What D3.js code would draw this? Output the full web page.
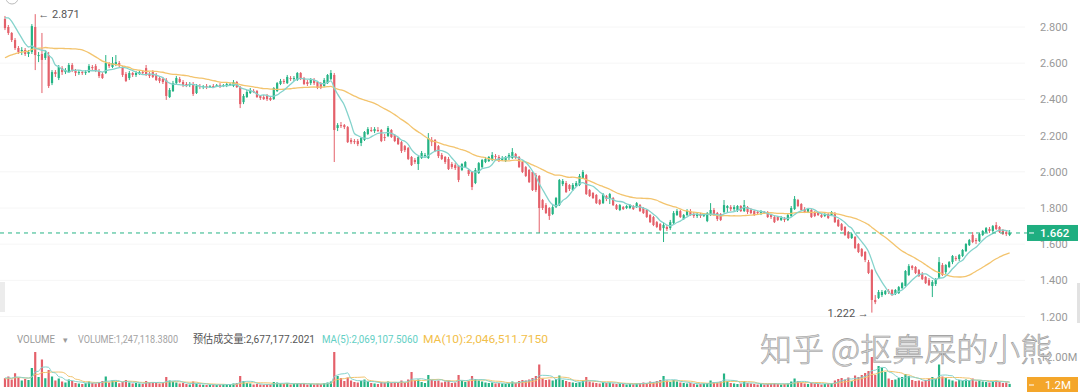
<!DOCTYPE html>
<html><head><meta charset="utf-8">
<script src="https://cdn.jsdelivr.net/npm/d3@7"></script>
<style>html,body{margin:0;padding:0;background:#fff;}svg{display:block;}</style>
</head><body>
<svg id="chart" width="1080" height="392"></svg>
<script>
// ---- DATA ----
const preCloses = [2.50,2.52,2.49,2.53,2.55,2.54,2.57,2.55,2.53,2.56,2.58,2.57,2.55,2.58,2.60,2.57,2.55,2.58,2.60,2.59,2.57,2.61,2.64,2.78,2.86,2.90,2.88,2.89,2.86];
const opens = [
2.844,2.800,2.767,2.728,2.684,2.667,2.673,2.651,2.662,2.800,
2.640,2.651,2.629,2.645,2.490,2.551,2.518,2.573,2.551,2.551,
2.590,2.557,2.546,2.551,2.546,2.551,2.579,2.584,2.557,2.540,
2.546,2.595,2.579,2.595,2.601,2.579,2.540,2.518,2.546,2.535,
2.540,2.551,2.573,2.540,2.551,2.535,2.518,2.513,2.507,2.413,
2.446,2.490,2.513,2.496,2.485,2.479,2.485,2.435,2.474,2.468,
2.474,2.468,2.474,2.474,2.479,2.474,2.474,2.479,2.474,2.496,
2.468,2.385,2.413,2.435,2.446,2.446,2.419,2.413,2.419,2.408,
2.402,2.446,2.485,2.502,2.490,2.518,2.513,2.507,2.546,2.518,
2.496,2.490,2.507,2.496,2.485,2.474,2.490,2.513,2.535,2.242,
2.258,2.258,2.247,2.176,2.170,2.170,2.159,2.176,2.209,2.231,
2.225,2.231,2.231,2.192,2.198,2.231,2.203,2.187,2.164,2.142,
2.131,2.082,2.065,2.043,2.076,2.087,2.076,2.176,2.176,2.142,
2.093,2.082,2.071,2.043,2.037,2.032,2.010,2.026,2.010,1.999,
1.938,1.993,2.026,2.054,2.059,2.065,2.087,2.082,2.065,2.059,
2.076,2.076,2.098,2.082,2.054,2.026,2.010,1.999,1.982,1.977,
1.844,1.816,1.800,1.767,1.805,1.816,1.932,1.938,1.927,1.899,
1.921,1.927,1.966,1.982,1.899,1.883,1.872,1.844,1.827,1.866,
1.855,1.855,1.816,1.789,1.805,1.800,1.800,1.811,1.805,1.816,
1.800,1.789,1.761,1.750,1.722,1.711,1.689,1.695,1.689,1.717,
1.761,1.783,1.739,1.761,1.783,1.767,1.756,1.767,1.756,1.728,
1.761,1.789,1.772,1.767,1.778,1.800,1.805,1.794,1.789,1.811,
1.783,1.805,1.789,1.783,1.778,1.772,1.778,1.778,1.761,1.750,
1.750,1.734,1.739,1.734,1.756,1.794,1.844,1.822,1.794,1.778,
1.789,1.778,1.772,1.761,1.756,1.767,1.761,1.772,1.734,1.711,
1.695,1.667,1.634,1.640,1.601,1.573,1.557,1.501,1.457,1.292,
1.303,1.319,1.325,1.341,1.347,1.325,1.330,1.358,1.369,1.430,
1.479,1.474,1.457,1.435,1.419,1.402,1.369,1.380,1.413,1.485,
1.446,1.474,1.501,1.524,1.518,1.535,1.562,1.595,1.651,1.623,
1.617,1.651,1.667,1.684,1.673,1.706,1.695,1.678,1.667,1.651];
const highs = [
2.861,2.811,2.772,2.739,2.695,2.689,2.684,2.673,2.816,2.871,
2.662,2.767,2.673,2.662,2.562,2.562,2.590,2.584,2.573,2.601,
2.601,2.568,2.562,2.557,2.562,2.595,2.590,2.595,2.568,2.551,
2.645,2.606,2.634,2.645,2.612,2.584,2.551,2.557,2.551,2.557,
2.562,2.562,2.590,2.551,2.562,2.546,2.529,2.524,2.518,2.463,
2.502,2.529,2.524,2.507,2.496,2.496,2.496,2.485,2.485,2.479,
2.485,2.479,2.485,2.485,2.490,2.485,2.496,2.490,2.507,2.502,
2.474,2.430,2.452,2.463,2.457,2.452,2.424,2.424,2.430,2.419,
2.468,2.496,2.513,2.513,2.535,2.529,2.529,2.551,2.551,2.524,
2.507,2.518,2.518,2.502,2.496,2.518,2.540,2.562,2.546,2.269,
2.275,2.264,2.253,2.187,2.181,2.181,2.192,2.225,2.247,2.247,
2.247,2.247,2.236,2.209,2.253,2.236,2.209,2.192,2.170,2.148,
2.137,2.087,2.076,2.087,2.115,2.104,2.214,2.192,2.181,2.148,
2.104,2.087,2.082,2.054,2.048,2.037,2.048,2.059,2.015,2.004,
2.021,2.054,2.071,2.082,2.087,2.109,2.098,2.093,2.087,2.087,
2.104,2.131,2.104,2.087,2.059,2.032,2.015,2.004,1.993,1.982,
1.850,1.827,1.805,1.816,1.861,1.960,1.960,1.949,1.932,1.938,
1.949,1.988,2.010,1.988,1.905,1.888,1.877,1.850,1.883,1.872,
1.883,1.861,1.822,1.822,1.811,1.816,1.822,1.816,1.833,1.822,
1.805,1.794,1.767,1.756,1.728,1.717,1.722,1.706,1.734,1.783,
1.794,1.789,1.767,1.794,1.794,1.778,1.778,1.772,1.772,1.778,
1.827,1.800,1.778,1.772,1.844,1.816,1.816,1.816,1.816,1.816,
1.844,1.811,1.800,1.789,1.783,1.789,1.783,1.783,1.767,1.756,
1.756,1.756,1.750,1.767,1.811,1.866,1.850,1.827,1.805,1.800,
1.794,1.783,1.778,1.772,1.772,1.772,1.783,1.778,1.739,1.717,
1.700,1.673,1.662,1.645,1.606,1.579,1.562,1.513,1.463,1.319,
1.347,1.347,1.347,1.352,1.352,1.352,1.369,1.391,1.457,1.490,
1.485,1.479,1.463,1.446,1.424,1.413,1.402,1.413,1.529,1.496,
1.490,1.507,1.540,1.535,1.546,1.573,1.606,1.629,1.667,1.634,
1.662,1.678,1.695,1.695,1.706,1.722,1.700,1.684,1.673,1.678];
const lows = [
2.783,2.756,2.717,2.673,2.651,2.645,2.640,2.634,2.651,2.562,
2.606,2.435,2.618,2.463,2.479,2.524,2.507,2.535,2.540,2.546,
2.551,2.529,2.535,2.535,2.535,2.546,2.562,2.551,2.518,2.513,
2.540,2.573,2.573,2.584,2.579,2.524,2.496,2.507,2.524,2.524,
2.535,2.535,2.529,2.518,2.518,2.502,2.490,2.485,2.397,2.408,
2.441,2.485,2.490,2.468,2.468,2.468,2.419,2.430,2.457,2.457,
2.457,2.463,2.463,2.468,2.463,2.468,2.468,2.474,2.468,2.463,
2.352,2.374,2.408,2.430,2.435,2.408,2.397,2.397,2.391,2.391,
2.397,2.441,2.479,2.485,2.485,2.502,2.502,2.502,2.507,2.479,
2.474,2.479,2.479,2.457,2.457,2.468,2.485,2.507,2.054,2.225,
2.242,2.236,2.159,2.153,2.153,2.142,2.142,2.170,2.203,2.220,
2.214,2.220,2.164,2.170,2.192,2.187,2.164,2.148,2.104,2.109,
2.065,2.032,2.043,2.010,2.071,2.076,2.071,2.142,2.109,2.076,
2.065,2.043,2.010,2.015,2.010,1.943,2.004,2.021,1.977,1.899,
1.932,1.988,2.021,2.048,2.054,2.059,2.065,2.054,2.059,2.054,
2.065,2.071,2.071,2.021,1.993,1.971,1.938,1.894,1.888,1.662,
1.789,1.767,1.734,1.761,1.800,1.811,1.921,1.883,1.894,1.894,
1.916,1.921,1.960,1.872,1.861,1.850,1.822,1.816,1.822,1.838,
1.822,1.811,1.789,1.783,1.789,1.794,1.794,1.789,1.800,1.778,
1.767,1.745,1.717,1.700,1.689,1.673,1.612,1.673,1.678,1.711,
1.756,1.745,1.734,1.756,1.756,1.745,1.745,1.745,1.750,1.722,
1.756,1.756,1.728,1.728,1.772,1.778,1.783,1.783,1.778,1.778,
1.778,1.767,1.767,1.756,1.761,1.761,1.767,1.745,1.739,1.717,
1.728,1.728,1.722,1.728,1.750,1.789,1.805,1.783,1.772,1.772,
1.745,1.750,1.756,1.745,1.750,1.739,1.756,1.717,1.695,1.673,
1.645,1.629,1.629,1.573,1.551,1.529,1.501,1.435,1.222,1.269,
1.297,1.308,1.319,1.325,1.314,1.319,1.325,1.352,1.363,1.424,
1.457,1.435,1.419,1.402,1.380,1.369,1.308,1.369,1.407,1.424,
1.435,1.468,1.490,1.507,1.507,1.529,1.557,1.590,1.606,1.601,
1.612,1.645,1.662,1.662,1.667,1.678,1.662,1.651,1.645,1.645];
const closes = [
2.794,2.767,2.728,2.684,2.662,2.673,2.651,2.662,2.805,2.645,
2.645,2.618,2.656,2.474,2.551,2.540,2.579,2.551,2.562,2.590,
2.557,2.546,2.551,2.546,2.551,2.584,2.573,2.557,2.529,2.518,
2.601,2.584,2.601,2.606,2.590,2.535,2.502,2.546,2.535,2.546,
2.551,2.546,2.535,2.529,2.524,2.507,2.502,2.496,2.419,2.452,
2.490,2.518,2.496,2.479,2.474,2.485,2.430,2.474,2.468,2.474,
2.468,2.474,2.471,2.479,2.474,2.479,2.485,2.485,2.496,2.468,
2.374,2.419,2.441,2.452,2.441,2.413,2.408,2.402,2.402,2.397,
2.463,2.490,2.502,2.496,2.524,2.513,2.518,2.546,2.513,2.485,
2.485,2.513,2.490,2.463,2.463,2.507,2.535,2.546,2.231,2.258,
2.253,2.247,2.164,2.164,2.164,2.153,2.187,2.220,2.236,2.228,
2.236,2.228,2.170,2.187,2.242,2.192,2.170,2.153,2.115,2.120,
2.071,2.037,2.054,2.082,2.104,2.093,2.187,2.164,2.115,2.087,
2.071,2.054,2.015,2.026,2.021,1.955,2.043,2.054,1.988,1.916,
2.010,2.048,2.065,2.071,2.082,2.093,2.082,2.059,2.076,2.082,
2.093,2.109,2.076,2.026,1.999,1.977,1.943,1.899,1.899,1.800,
1.800,1.772,1.756,1.805,1.855,1.955,1.949,1.888,1.905,1.927,
1.938,1.977,1.999,1.877,1.866,1.855,1.827,1.822,1.877,1.850,
1.877,1.816,1.794,1.816,1.794,1.811,1.816,1.794,1.827,1.783,
1.772,1.750,1.722,1.706,1.695,1.678,1.706,1.684,1.722,1.772,
1.783,1.750,1.761,1.783,1.761,1.756,1.767,1.756,1.761,1.772,
1.789,1.761,1.739,1.734,1.816,1.811,1.794,1.805,1.811,1.783,
1.816,1.778,1.772,1.761,1.772,1.778,1.772,1.750,1.750,1.722,
1.734,1.745,1.734,1.761,1.800,1.850,1.811,1.789,1.778,1.794,
1.750,1.756,1.761,1.750,1.767,1.745,1.778,1.722,1.700,1.678,
1.651,1.634,1.656,1.579,1.557,1.535,1.513,1.441,1.292,1.280,
1.336,1.336,1.341,1.336,1.319,1.347,1.363,1.385,1.452,1.479,
1.468,1.441,1.424,1.407,1.385,1.374,1.391,1.407,1.501,1.430,
1.485,1.501,1.535,1.518,1.540,1.568,1.601,1.623,1.612,1.617,
1.656,1.673,1.689,1.673,1.700,1.684,1.667,1.656,1.656,1.662];
// volume, in millions
const preVolumes = [2.4,2.8,3.0,2.6,3.4,4.0,3.6,3.2,3.8];
const volumes = [
3.5,4.2,3.0,5.5,3.8,2.6,3.2,2.8,7.6,14.0,
4.0,11.0,3.5,6.8,4.2,2.6,3.4,2.2,1.8,3.0,
2.4,1.6,1.4,1.2,1.5,2.2,1.6,1.4,2.0,2.4,
4.2,1.8,2.6,2.2,1.5,2.0,2.8,1.8,1.4,1.6,
1.4,1.2,2.4,1.8,2.0,1.6,1.4,1.8,4.0,2.6,
2.2,1.8,1.4,1.6,1.2,1.0,2.2,1.4,1.0,0.9,
0.8,0.9,1.0,0.8,0.9,1.1,1.2,0.9,1.4,1.6,
4.4,2.4,1.6,1.4,1.0,1.2,1.0,0.9,1.1,1.0,
2.0,1.8,1.4,1.2,1.6,1.0,1.2,1.5,1.3,1.4,
1.0,1.2,1.0,1.3,1.2,1.6,1.8,2.2,14.0,4.4,
3.6,2.4,3.8,2.6,2.0,1.8,2.4,3.0,2.2,1.6,
1.4,1.2,2.0,1.8,2.2,1.6,1.8,2.0,2.6,1.8,
3.0,6.0,2.6,3.0,2.0,1.6,4.8,2.8,2.4,2.6,
1.8,2.2,2.6,1.6,1.8,4.8,2.6,2.0,2.4,4.4,
3.2,2.6,2.2,1.8,1.6,1.8,1.4,1.6,1.4,1.2,
1.6,2.2,1.6,2.4,2.8,2.6,3.0,3.6,4.4,9.0,
3.4,2.8,3.0,2.6,3.2,4.6,2.8,2.4,2.0,1.8,
1.6,2.0,2.6,4.0,2.2,1.8,1.6,1.4,2.0,1.6,
1.8,1.4,1.2,1.4,1.2,1.0,1.2,1.1,1.4,1.6,
1.8,1.6,2.2,2.0,2.4,2.8,4.4,2.6,2.0,2.8,
2.2,1.8,1.6,1.4,1.6,1.2,1.0,1.2,1.4,1.6,
2.6,2.0,1.8,2.2,5.4,2.4,1.6,1.4,1.2,1.4,
2.4,1.6,1.4,1.2,1.0,1.2,1.0,1.2,1.4,1.6,
1.2,1.0,1.2,1.4,2.2,3.4,2.4,1.8,1.4,1.2,
1.6,1.4,1.2,1.0,1.2,1.4,1.6,2.6,3.2,3.6,
3.0,3.8,2.4,4.6,4.0,4.8,5.6,6.4,12.0,4.8,
8.4,7.6,6.0,3.4,2.8,3.0,3.6,4.0,5.2,4.4,
2.8,2.4,2.6,2.2,2.8,3.4,4.0,3.2,9.0,4.2,
3.6,3.0,2.6,2.2,2.8,2.4,3.0,2.6,3.4,2.2,
2.6,2.2,2.0,1.8,2.4,2.6,2.0,1.6,1.8,1.25];
const priceTicks = [1.2,1.4,1.6,1.8,2.0,2.2,2.4,2.6,2.8];
const volumeTicks = [12];
const volumeHeader = [
  {t:"VOLUME", x:17, w:38, c:"#9a9a9a"},
  {t:"\u25BE", x:63, w:0, c:"#9a9a9a"},
  {t:"VOLUME:1,247,118.3800", x:78, w:100, c:"#a3a3a3"},
  {t:"预估成交量:2,677,177.2021", x:193, w:122, c:"#555555"},
  {t:"MA(5):2,069,107.5060", x:322, w:96, c:"#62cfc4"},
  {t:"MA(10):2,046,511.7150", x:423, w:125, c:"#f2c04a"}
];
const lastVolumeLabel = "1.2M";
const watermark = "知乎 @抠鼻屎的小熊";

// ---- CHART ----
const N = closes.length;
const RED = "#e4606a", GREEN = "#24b384";
const svg = d3.select("#chart");
const x = d3.scaleBand().domain(d3.range(N)).range([3.3, 1011.3]).paddingInner(0.35).paddingOuter(0.175);
const bw = x.bandwidth();
const cx = i => x(i) + bw / 2;
const y = d3.scaleLinear().domain([1.2, 2.8]).range([316.6, 27]);
const yv = d3.scaleLinear().domain([0, 12]).range([387, 357]);

function movingAvg(series, pre, n) {
  const all = pre.concat(series);
  const off = pre.length;
  return series.map((_, i) => {
    const end = off + i + 1, start = Math.max(0, end - n);
    return d3.mean(all.slice(start, end));
  });
}
const ma7 = movingAvg(closes, preCloses, 7);
const ma30 = movingAvg(closes, preCloses, 30);
const vma5 = movingAvg(volumes, preVolumes, 5);
const vma10 = movingAvg(volumes, preVolumes, 10);

// faint grid
svg.append("g").selectAll("line").data(priceTicks).join("line")
  .attr("x1", 0).attr("x2", 1025).attr("y1", d => y(d)).attr("y2", d => y(d))
  .attr("stroke", "#f6f6f6").attr("stroke-width", 1);

// top partial legend remnant
svg.append("circle").attr("cx", 12).attr("cy", -2).attr("r", 6).attr("fill", "none").attr("stroke", "#bbb");

// side tabs
svg.append("rect").attr("x", 0).attr("y", 282).attr("width", 5).attr("height", 30).attr("fill", "#ececec");
svg.append("rect").attr("x", 1077).attr("y", 283).attr("width", 3).attr("height", 40).attr("fill", "#e2e2e2");

// candles
const idx = d3.range(N);
const up = i => closes[i] >= opens[i];
const cg = svg.append("g");
cg.selectAll("line").data(idx).join("line")
  .attr("x1", cx).attr("x2", cx)
  .attr("y1", i => y(highs[i])).attr("y2", i => y(lows[i]))
  .attr("stroke", i => up(i) ? GREEN : RED).attr("stroke-width", 1);
cg.selectAll("rect").data(idx).join("rect")
  .attr("x", i => x(i)).attr("width", bw)
  .attr("y", i => y(Math.max(opens[i], closes[i])))
  .attr("height", i => Math.max(1, Math.abs(y(opens[i]) - y(closes[i]))))
  .attr("fill", i => up(i) ? GREEN : RED);

// MA lines
const line = d3.line().x((d, i) => cx(i)).y(d => y(d)).curve(d3.curveMonotoneX);
svg.append("path").attr("d", line(ma30)).attr("fill", "none").attr("stroke", "#f3c46e").attr("stroke-width", 1.3);
svg.append("path").attr("d", line(ma7)).attr("fill", "none").attr("stroke", "#84d3cc").attr("stroke-width", 1.3);

// high / low annotations
const hiI = d3.maxIndex(highs), loI = d3.minIndex(lows);
svg.append("text").attr("x", cx(hiI) + 3).attr("y", y(highs[hiI]) + 4)
  .attr("font-family", "Roboto, sans-serif").attr("font-size", 11).attr("fill", "#555")
  .text("\u2190 " + highs[hiI].toFixed(3));
svg.append("text").attr("x", cx(loI) - 3).attr("y", y(lows[loI]) + 4).attr("text-anchor", "end")
  .attr("font-family", "Roboto, sans-serif").attr("font-size", 11).attr("fill", "#555")
  .text(lows[loI].toFixed(3) + " \u2192");

// last price dashed line
const last = closes[N - 1];
svg.append("line").attr("x1", 0).attr("x2", 1027).attr("y1", y(last)).attr("y2", y(last))
  .attr("stroke", GREEN).attr("stroke-dasharray", "4,4").attr("stroke-width", 1);

// price axis
const ay = svg.append("g").attr("transform", "translate(1038,0)")
  .call(d3.axisRight(y).tickValues(priceTicks).tickFormat(d3.format(".3f")).tickSize(0).tickPadding(2));
ay.select(".domain").remove();
ay.selectAll("text").attr("font-family", "Roboto, sans-serif").attr("font-size", 11).attr("fill", "#999");

// last price label
svg.append("rect").attr("x", 1027).attr("y", y(last) - 8).attr("width", 51).attr("height", 16).attr("fill", "#1fae80");
svg.append("line").attr("x1", 1029).attr("x2", 1034).attr("y1", y(last)).attr("y2", y(last)).attr("stroke", "#fff");
svg.append("text").attr("x", 1040).attr("y", y(last) + 4).attr("font-family", "Roboto, sans-serif")
  .attr("font-size", 11.5).attr("font-weight", 500).attr("fill", "#fff").text(last.toFixed(3));

// volume header
const vh = svg.append("g").selectAll("text").data(volumeHeader).join("text")
  .attr("x", d => d.x).attr("y", 343).attr("fill", d => d.c)
  .attr("font-family", "Roboto, 'Noto Sans CJK SC', sans-serif").attr("font-size", d => d.w ? 11 : 9)
  .text(d => d.t);
vh.filter(d => d.w > 0).attr("textLength", d => d.w).attr("lengthAdjust", "spacingAndGlyphs");

// volume bars
svg.append("g").selectAll("rect").data(idx).join("rect")
  .attr("x", i => x(i)).attr("width", bw)
  .attr("y", i => yv(volumes[i])).attr("height", i => yv(0) - yv(volumes[i]))
  .attr("fill", i => up(i) ? GREEN : RED);
const vline = d3.line().x((d, i) => cx(i)).y(d => yv(d)).curve(d3.curveMonotoneX);
svg.append("path").attr("d", vline(vma10)).attr("fill", "none").attr("stroke", "#f3c46e").attr("stroke-width", 1);
svg.append("path").attr("d", vline(vma5)).attr("fill", "none").attr("stroke", "#84d3cc").attr("stroke-width", 1);

// volume axis
const av = svg.append("g").attr("transform", "translate(1038,0)")
  .call(d3.axisRight(yv).tickValues(volumeTicks).tickFormat(d => d.toFixed(2) + "M").tickSize(0).tickPadding(2));
av.select(".domain").remove();
av.selectAll("text").attr("font-family", "Roboto, sans-serif").attr("font-size", 11).attr("fill", "#999");

// last volume label
svg.append("rect").attr("x", 1027).attr("y", 377).attr("width", 51).attr("height", 15).attr("fill", "#f4a62a");
svg.append("line").attr("x1", 1029).attr("x2", 1034).attr("y1", 385).attr("y2", 385).attr("stroke", "#fff");
svg.append("text").attr("x", 1045).attr("y", 389).attr("font-family", "Roboto, sans-serif")
  .attr("font-size", 11.5).attr("fill", "#fff").text(lastVolumeLabel);

// watermark
svg.append("text").attr("x", 760).attr("y", 361)
  .attr("font-family", "'Noto Sans CJK SC', sans-serif").attr("font-size", 32).attr("font-weight", 300)
  .attr("fill", "#d8d8d8").attr("stroke", "#999").attr("stroke-width", 0.6)
  .text(watermark);
</script>
</body></html>
